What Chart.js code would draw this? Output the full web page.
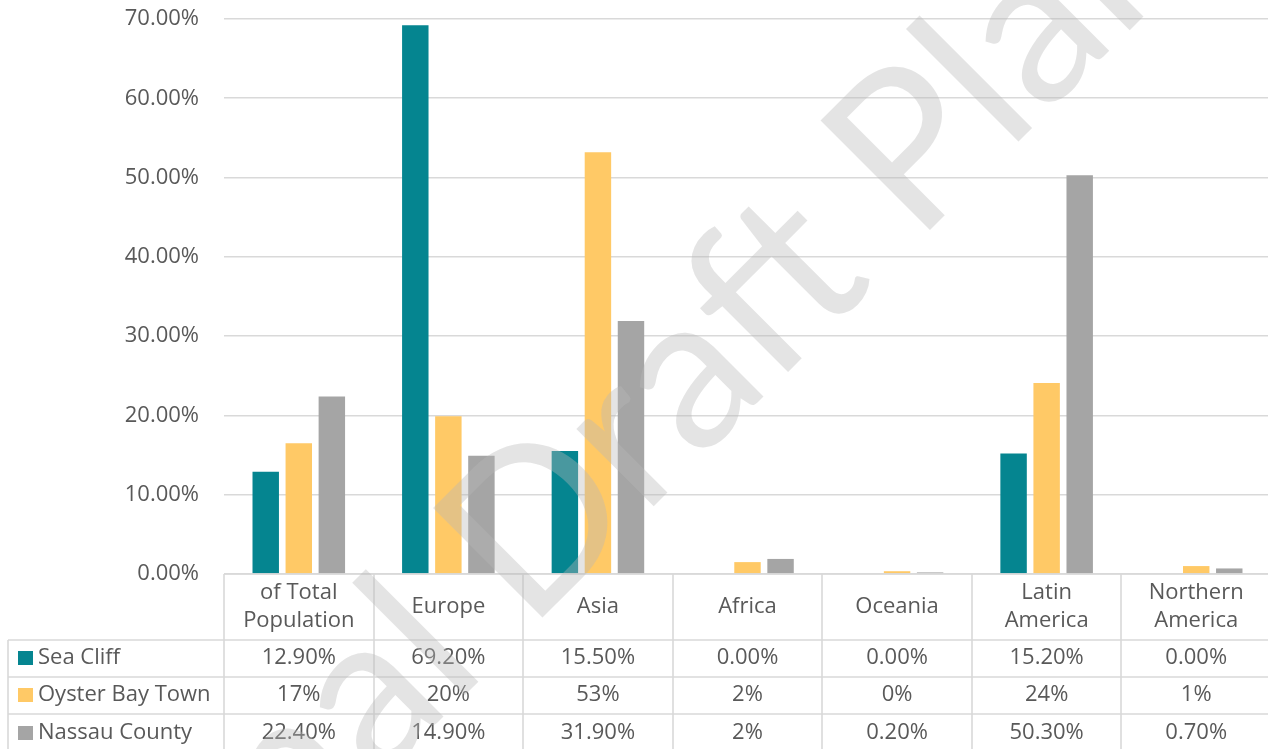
<!DOCTYPE html>
<html>
<head>
<meta charset="utf-8">
<script src="https://cdn.jsdelivr.net/npm/chart.js@4/dist/chart.umd.min.js"></script>
<style>
  html, body { margin: 0; padding: 0; background: #ffffff; overflow: hidden; }
  canvas { display: block; }
</style>
</head>
<body>
<canvas id="c" width="1271" height="749"></canvas>
<script>
// ---- data ----
const categories = [["of Total", "Population"], "Europe", "Asia", "Africa", "Oceania", ["Latin", "America"], ["Northern", "America"]];
const seriesNames = ["Sea Cliff", "Oyster Bay Town", "Nassau County"];
const seaCliff = [12.9, 69.2, 15.5, 0, 0, 15.2, 0];
const oysterBay = [16.5, 19.9, 53.2, 1.5, 0.35, 24.1, 1.0];
const nassau = [22.4, 14.9, 31.9, 1.9, 0.2, 50.3, 0.7];
const seaCliffLabels = ["12.90%", "69.20%", "15.50%", "0.00%", "0.00%", "15.20%", "0.00%"];
const oysterBayLabels = ["17%", "20%", "53%", "2%", "0%", "24%", "1%"];
const nassauLabels = ["22.40%", "14.90%", "31.90%", "2%", "0.20%", "50.30%", "0.70%"];
const yMin = 0, yMax = 70, yStep = 10;
const watermarkPrefix = "Final ";
const watermarkMain = "Draft Plan";

const colors = ["#058590", "#FFC966", "#A5A5A5"];
const textColor = "#595959";
const lineColor = "#d9d9d9";
const FONT = "'Open Sans', 'Noto Sans', sans-serif";

const tablePlugin = {
  id: 'dataTable',
  afterDraw(chart) {
    const { ctx, chartArea, scales: { x } } = chart;
    const n = categories.length;
    const colW = (chartArea.right - chartArea.left) / n;
    const top = chartArea.bottom;
    const headerBottom = 640;
    const rowBottoms = [677, 714, 749];
    const rowCenters = [658, 695, 733];
    const tableLeft = 8;
    const right = chart.width;
    const bottom = chart.height;

    ctx.save();
    ctx.strokeStyle = lineColor;
    ctx.lineWidth = 1.6;
    ctx.beginPath();
    ctx.moveTo(chartArea.left, top); ctx.lineTo(right, top);
    [headerBottom, rowBottoms[0], rowBottoms[1]].forEach(y => {
      ctx.moveTo(tableLeft, y); ctx.lineTo(right, y);
    });
    for (let i = 0; i <= n; i++) {
      const xb = Math.round((i < n ? x.getPixelForValue(i) - colW / 2 : x.getPixelForValue(n - 1) + colW / 2));
      ctx.moveTo(xb, top); ctx.lineTo(xb, bottom);
    }
    ctx.moveTo(tableLeft, headerBottom); ctx.lineTo(tableLeft, bottom);
    ctx.stroke();

    ctx.fillStyle = textColor;
    ctx.font = "22px " + FONT;
    ctx.textAlign = 'center';
    ctx.textBaseline = 'middle';
    categories.forEach((c, i) => {
      const cx = x.getPixelForValue(i);
      if (Array.isArray(c)) {
        ctx.fillText(c[0], cx, 593);
        ctx.fillText(c[1], cx, 621);
      } else {
        ctx.fillText(c, cx, 607);
      }
    });
    const rows = [seaCliffLabels, oysterBayLabels, nassauLabels];
    rows.forEach((row, r) => {
      row.forEach((t, i) => {
        ctx.fillText(t, x.getPixelForValue(i), rowCenters[r]);
      });
    });
    ctx.textAlign = 'left';
    seriesNames.forEach((s, r) => {
      ctx.fillStyle = colors[r];
      ctx.fillRect(18, rowCenters[r] - 7, 15, 14);
      ctx.fillStyle = textColor;
      ctx.fillText(s, 38, rowCenters[r]);
    });
    ctx.restore();

    // watermark
    ctx.save();
    ctx.translate(542, 618);
    ctx.rotate(-Math.PI / 4);
    ctx.font = "216px Lato, 'Open Sans', sans-serif";
    ctx.fillStyle = 'rgba(185,185,185,0.38)';
    ctx.textAlign = 'left';
    ctx.textBaseline = 'alphabetic';
    const m = ctx.measureText("D");
    const x0 = m.actualBoundingBoxLeft;
    ctx.fillText(watermarkMain, x0, 0);
    const pw = ctx.measureText(watermarkPrefix).width;
    ctx.fillText(watermarkPrefix, x0 - pw, 0);
    ctx.restore();
  }
};

new Chart(document.getElementById('c'), {
  type: 'bar',
  data: {
    labels: categories,
    datasets: [
      { label: seriesNames[0], data: seaCliff, backgroundColor: colors[0] },
      { label: seriesNames[1], data: oysterBay, backgroundColor: colors[1] },
      { label: seriesNames[2], data: nassau, backgroundColor: colors[2] }
    ]
  },
  options: {
    responsive: false,
    animation: false,
    devicePixelRatio: 1,
    layout: { padding: { top: 19, bottom: 175, left: 0, right: 0 } },
    datasets: { bar: { barPercentage: 0.8, categoryPercentage: 0.663, borderWidth: 0 } },
    plugins: { legend: { display: false }, tooltip: { enabled: false } },
    scales: {
      x: { display: false },
      y: {
        min: yMin, max: yMax,
        ticks: {
          stepSize: yStep,
          padding: 25,
          color: textColor,
          font: { family: FONT, size: 22 },
          callback: v => v.toFixed(2) + '%'
        },
        grid: { color: lineColor, lineWidth: 1.6, drawTicks: false },
        border: { display: false },
        afterFit(scale) { scale.width = 224; scale.paddingTop = 0; scale.paddingBottom = 0; }
      }
    }
  },
  plugins: [tablePlugin]
});
</script>
</body>
</html>
